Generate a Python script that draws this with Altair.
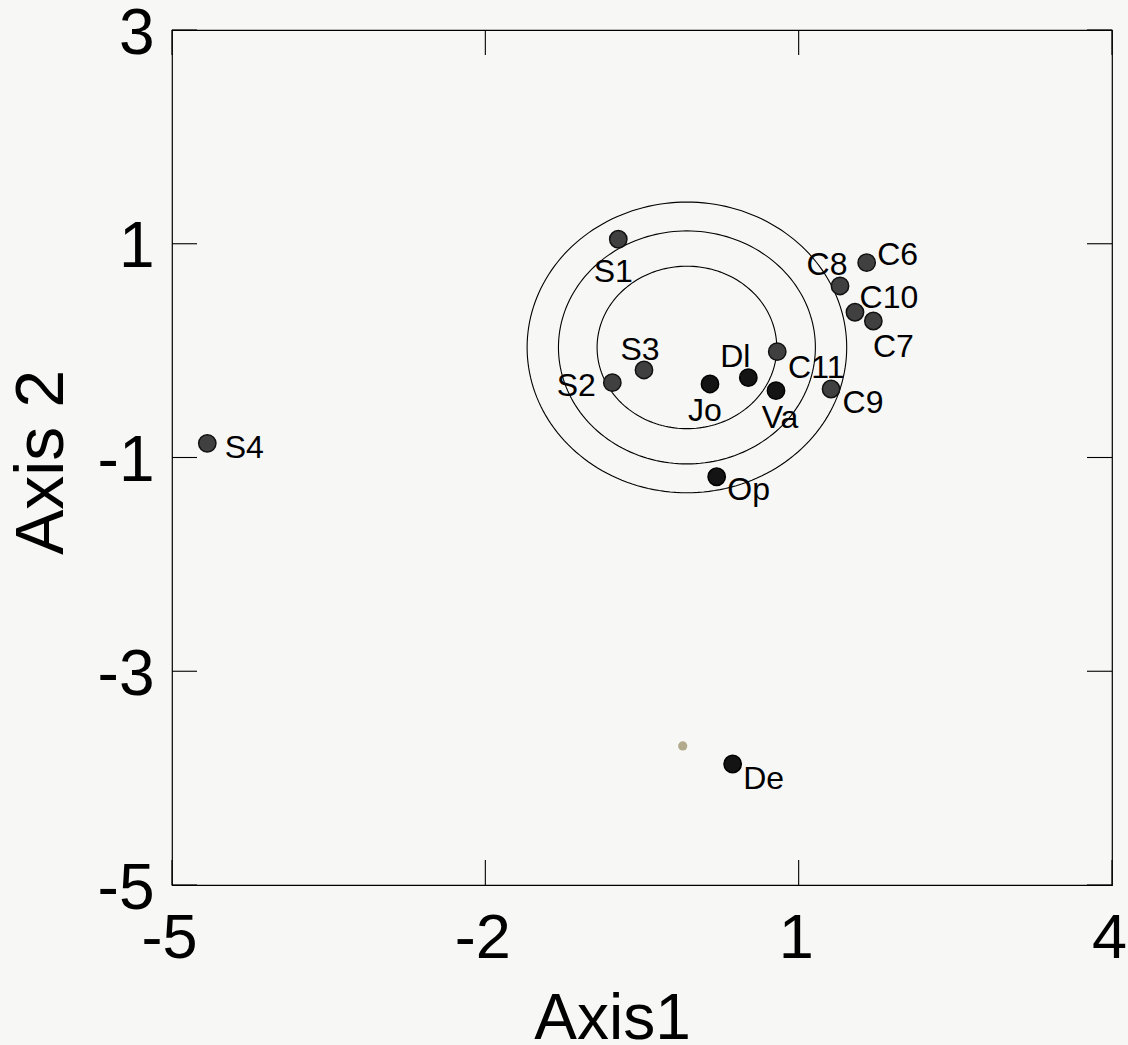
import altair as alt
import pandas as pd
import numpy as np

# ---- data ----
names = ["S1", "S2", "S3", "S4", "Jo", "Dl", "Va", "C11", "C9", "C8", "C6", "C10", "C7", "Op", "De"]
axis1 = [-0.727, -0.784, -0.481, -4.662, 0.151, 0.518, 0.783, 0.795, 1.310, 1.396, 1.651, 1.539, 1.715, 0.215, 0.368]
axis2 = [1.042, -0.300, -0.181, -0.867, -0.312, -0.253, -0.375, -0.010, -0.359, 0.605, 0.823, 0.359, 0.277, -1.180, -3.868]
group = ["hatched", "hatched", "hatched", "hatched", "solid", "solid", "solid", "hatched", "hatched",
         "hatched", "hatched", "hatched", "hatched", "solid", "solid"]

centroid_x = [-0.110]
centroid_y = [-3.699]

ring_center = (-0.07, 0.03)
ring_rx = [0.86, 1.23, 1.53]
ring_ry = [0.76, 1.09, 1.36]

x_ticks = [-5, -2, 1, 4]
y_ticks = [3, 1, -1, -3, -5]

# ---- label placement (pixel offsets of label centre from its point) ----
label_offsets = {
    "S1": (-5, 33), "S2": (-36, 3), "S3": (-4, -20), "S4": (37, 5), "Jo": (-5, 27),
    "Dl": (-13, -21), "Va": (4, 27), "C11": (39, 16), "C9": (32, 14), "C8": (-13, -21),
    "C6": (31, -8), "C10": (34, -14), "C7": (20, 26), "Op": (32, 13), "De": (31, 15),
}

FONT = "Liberation Sans"
W, H = 940, 855
TICK = 25

pts = pd.DataFrame({"name": names, "x": axis1, "y": axis2, "group": group})

# ellipse outlines
theta = np.linspace(0, 2 * np.pi, 181)
rows = []
for i, (rx, ry) in enumerate(zip(ring_rx, ring_ry)):
    for k, t in enumerate(theta):
        rows.append({"ring": i, "k": k,
                     "x": ring_center[0] + rx * np.cos(t),
                     "y": ring_center[1] + ry * np.sin(t)})
rings = pd.DataFrame(rows)

xs = alt.Scale(domain=[-5, 4], nice=False, zero=False)
ys = alt.Scale(domain=[-5, 3], nice=False, zero=False)
lab = "datum.value < 0 ? '-' + abs(datum.value) : '' + datum.value"

x_axis = alt.Axis(values=x_ticks, grid=False, ticks=False, domain=False, title="Axis1",
                  labelExpr=lab, labelFont=FONT, labelFontSize=63, labelColor="black",
                  labelPadding=22, labelBaseline="top", labelOffset=-3,
                  labelFlush=False, labelOverlap=False,
                  titleFont=FONT, titleFontSize=64, titleFontWeight="normal", titleColor="black",
                  titleX=440, titleY=153, titleBaseline="alphabetic", titleAlign="center")
y_axis = alt.Axis(values=y_ticks, grid=False, ticks=False, domain=False, title="Axis 2",
                  labelExpr=lab, labelFont=FONT, labelFontSize=64, labelColor="black",
                  labelPadding=18, labelBaseline="middle", labelOffset=4,
                  labelFlush=False, labelOverlap=False,
                  titleFont=FONT, titleFontSize=68, titleFontWeight="normal", titleColor="black",
                  titleAngle=270, titleX=-110, titleY=432, titleBaseline="alphabetic",
                  titleAlign="center")


def X(field):
    return alt.X(field, scale=xs, axis=x_axis)


def Y(field):
    return alt.Y(field, scale=ys, axis=y_axis)


ring_layer = alt.Chart(rings).mark_line(color="black", strokeWidth=1.1).encode(
    x=X("x:Q"), y=Y("y:Q"), detail="ring:N", order="k:Q",
)

hatched = alt.Chart(pts[pts.group == "hatched"]).mark_point(
    shape="circle", filled=True, size=300, fill="#404040", stroke="#111111", strokeWidth=1.5, opacity=1
).encode(x=X("x:Q"), y=Y("y:Q"))

solid = alt.Chart(pts[pts.group == "solid"]).mark_point(
    shape="circle", filled=True, size=300, fill="#141414", stroke="#000000", strokeWidth=1.5, opacity=1
).encode(x=X("x:Q"), y=Y("y:Q"))

cent = alt.Chart(pd.DataFrame({"x": centroid_x, "y": centroid_y})).mark_point(
    shape="circle", filled=True, size=85, fill="#b3aa8c", opacity=1
).encode(x=X("x:Q"), y=Y("y:Q"))

text_layers = []
for n in names:
    dx, dy = label_offsets[n]
    text_layers.append(
        alt.Chart(pts[pts.name == n]).mark_text(
            font=FONT, fontSize=32, color="black", align="center", baseline="middle", dx=dx, dy=dy
        ).encode(x=X("x:Q"), y=Y("y:Q"), text="name:N")
    )

xt = pd.DataFrame({"x": x_ticks})
yt = pd.DataFrame({"y": y_ticks})
tick_style = dict(color="black", strokeWidth=1.1)
bottom_ticks = alt.Chart(xt).mark_rule(**tick_style).encode(
    x=X("x:Q"), y=alt.value(H), y2=alt.value(H - TICK))
top_ticks = alt.Chart(xt).mark_rule(**tick_style).encode(
    x=X("x:Q"), y=alt.value(0), y2=alt.value(TICK))
left_ticks = alt.Chart(yt).mark_rule(**tick_style).encode(
    y=Y("y:Q"), x=alt.value(0), x2=alt.value(TICK))
right_ticks = alt.Chart(yt).mark_rule(**tick_style).encode(
    y=Y("y:Q"), x=alt.value(W - TICK), x2=alt.value(W))

chart = alt.layer(
    ring_layer, bottom_ticks, top_ticks, left_ticks, right_ticks, cent, hatched, solid, *text_layers
).properties(
    width=W, height=H,
    autosize=alt.AutoSizeParams(type="none"),
    padding={"left": 172, "top": 30, "right": 16, "bottom": 160},
    background="#f7f7f5",
).configure_view(stroke="black", strokeWidth=1.2)

chart.save("out.html", embed_options={"renderer": "svg", "actions": False})
